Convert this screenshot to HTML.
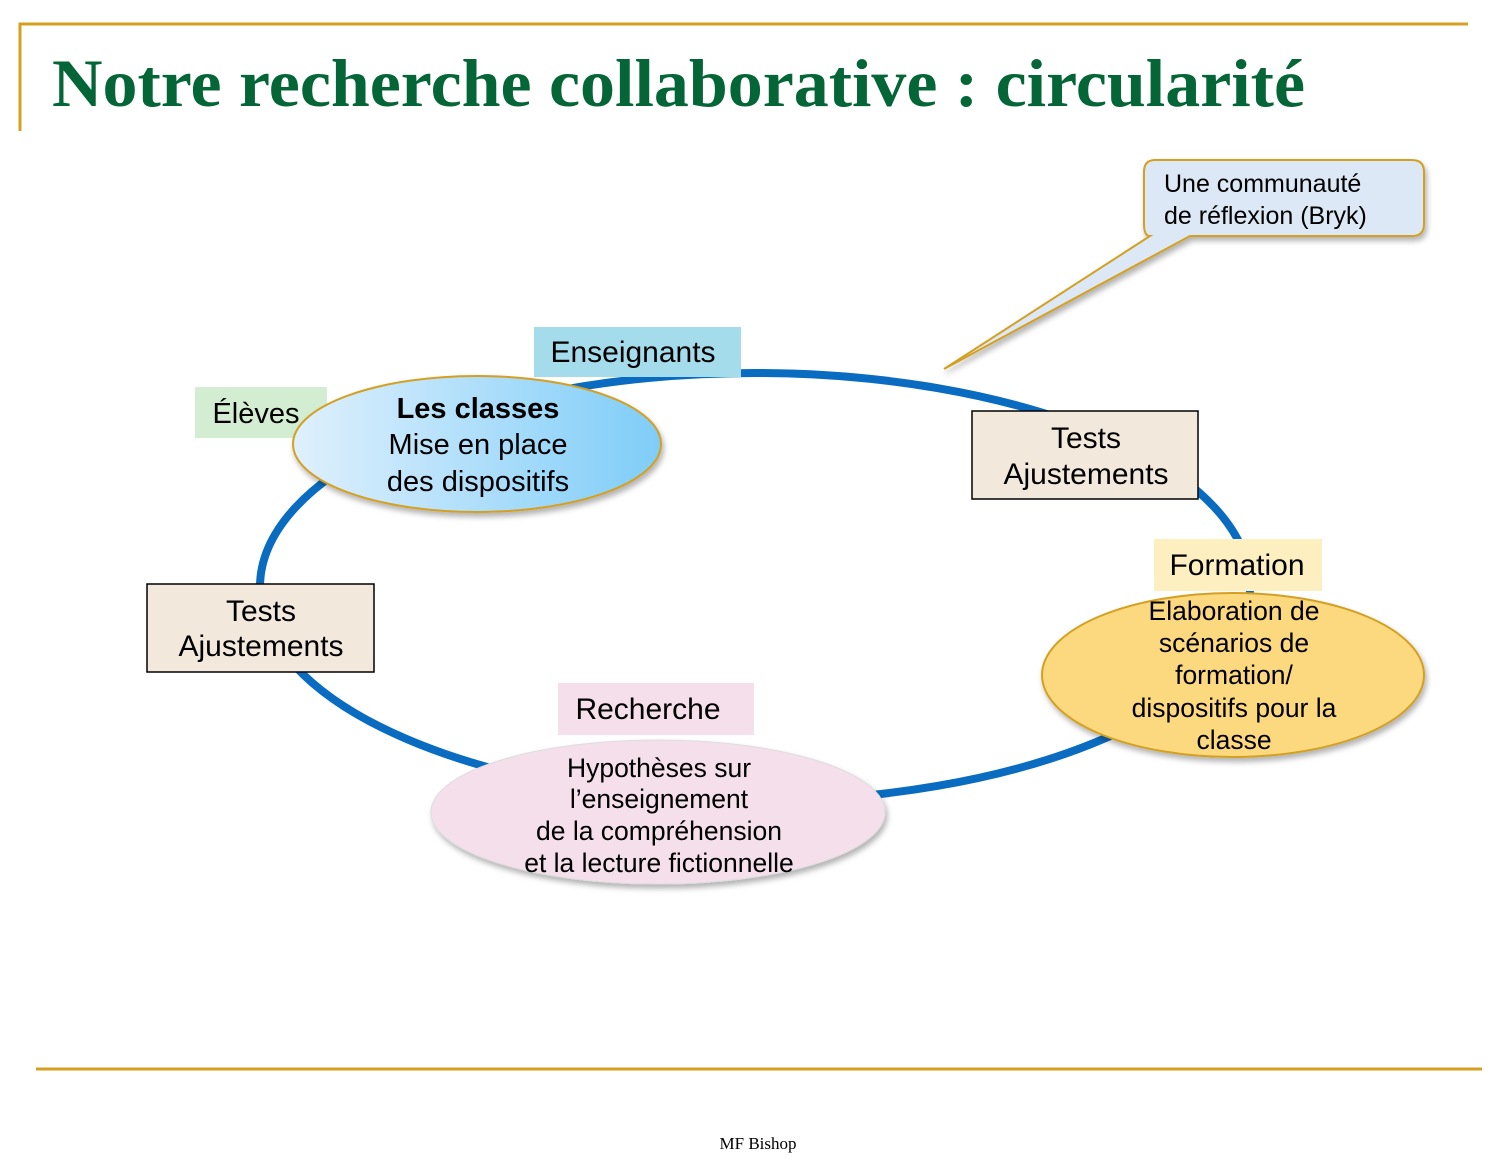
<!DOCTYPE html>
<html><head><meta charset="utf-8"><style>
body{margin:0;background:#fff;}
svg text{font-family:"Liberation Sans",sans-serif;}
</style></head><body>
<svg width="1510" height="1168" viewBox="0 0 1510 1168" xmlns="http://www.w3.org/2000/svg">
<defs>
<linearGradient id="gb" x1="0" x2="1" y1="0" y2="0"><stop offset="0" stop-color="#dff0fd"/><stop offset="1" stop-color="#7fcdf8"/></linearGradient>
<filter id="sh" x="-10%" y="-10%" width="130%" height="140%"><feDropShadow dx="2" dy="4" stdDeviation="3" flood-color="#000" flood-opacity="0.3"/></filter>
</defs>
<polyline points="20,131 20,24 1468,24" fill="none" stroke="#d4a020" stroke-width="3"/>
<text x="52" y="106" font-weight="bold" font-size="68" fill="#046636" textLength="1253" lengthAdjust="spacingAndGlyphs" style="font-family:'Liberation Serif',serif">Notre recherche collaborative : circularité</text>
<line x1="36" y1="1069" x2="1482" y2="1069" stroke="#d4a020" stroke-width="3"/>
<text x="758" y="1149" text-anchor="middle" font-size="17" style="font-family:'Liberation Serif',serif">MF Bishop</text>

<ellipse cx="755" cy="587" rx="495" ry="214" fill="none" stroke="#0a6cc0" stroke-width="8"/>

<path d="M1155,160 H1412 Q1424,160 1424,172 V224 Q1424,236 1412,236 H1190 L944,369 L1150,236 Q1144,236 1144,224 V172 Q1144,160 1155,160 Z" fill="#dce8f5" stroke="#d4a020" stroke-width="2" filter="url(#sh)"/>
<text x="1164" y="192" font-size="25">Une communauté</text>
<text x="1164" y="224" font-size="25">de réflexion (Bryk)</text>

<rect x="195" y="387" width="132" height="51" fill="#d3edd3"/>
<text x="256" y="423" font-size="29" text-anchor="middle">Élèves</text>
<ellipse cx="477" cy="444" rx="184" ry="68" fill="url(#gb)" stroke="#d4a020" stroke-width="2" filter="url(#sh)"/>
<rect x="534" y="327" width="207" height="50" fill="#a5dcec"/>
<text x="633" y="362" font-size="30" text-anchor="middle">Enseignants</text>
<text x="478" y="418" font-size="29" font-weight="bold" text-anchor="middle">Les classes</text>
<text x="478" y="454" font-size="29" text-anchor="middle">Mise en place</text>
<text x="478" y="491" font-size="29" text-anchor="middle">des dispositifs</text>

<rect x="972" y="411" width="226" height="88" fill="#f2e9dc" stroke="#000" stroke-width="1.5"/>
<text x="1086" y="448" font-size="30" text-anchor="middle">Tests</text>
<text x="1086" y="484" font-size="30" text-anchor="middle">Ajustements</text>

<rect x="147" y="584" width="227" height="88" fill="#f2e9dc" stroke="#000" stroke-width="1.5"/>
<text x="261" y="621" font-size="30" text-anchor="middle">Tests</text>
<text x="261" y="656" font-size="30" text-anchor="middle">Ajustements</text>

<ellipse cx="1233" cy="675" rx="191" ry="82" fill="#fcd97f" stroke="#d4a020" stroke-width="2" filter="url(#sh)"/>
<rect x="1154" y="539" width="168" height="52" fill="#fdefbf"/>
<text x="1237" y="575" font-size="30" text-anchor="middle">Formation</text>
<text x="1234" y="620" font-size="26.5" text-anchor="middle">Elaboration de</text>
<text x="1234" y="652" font-size="26.5" text-anchor="middle">scénarios de</text>
<text x="1234" y="684" font-size="26.5" text-anchor="middle">formation/</text>
<text x="1234" y="717" font-size="26.5" text-anchor="middle">dispositifs pour la</text>
<text x="1234" y="749" font-size="26.5" text-anchor="middle">classe</text>

<ellipse cx="658" cy="812" rx="227" ry="72" fill="#f5dfea" stroke="#ddd" stroke-width="1" filter="url(#sh)"/>
<rect x="558" y="683" width="196" height="52" fill="#f5dfea"/>
<text x="648" y="719" font-size="30" text-anchor="middle">Recherche</text>
<text x="659" y="777" font-size="26.5" text-anchor="middle">Hypothèses sur</text>
<text x="659" y="808" font-size="26.5" text-anchor="middle">l’enseignement</text>
<text x="659" y="840" font-size="26.5" text-anchor="middle">de la compréhension</text>
<text x="659" y="872" font-size="26.5" text-anchor="middle">et la lecture fictionnelle</text>
</svg>
</body></html>
